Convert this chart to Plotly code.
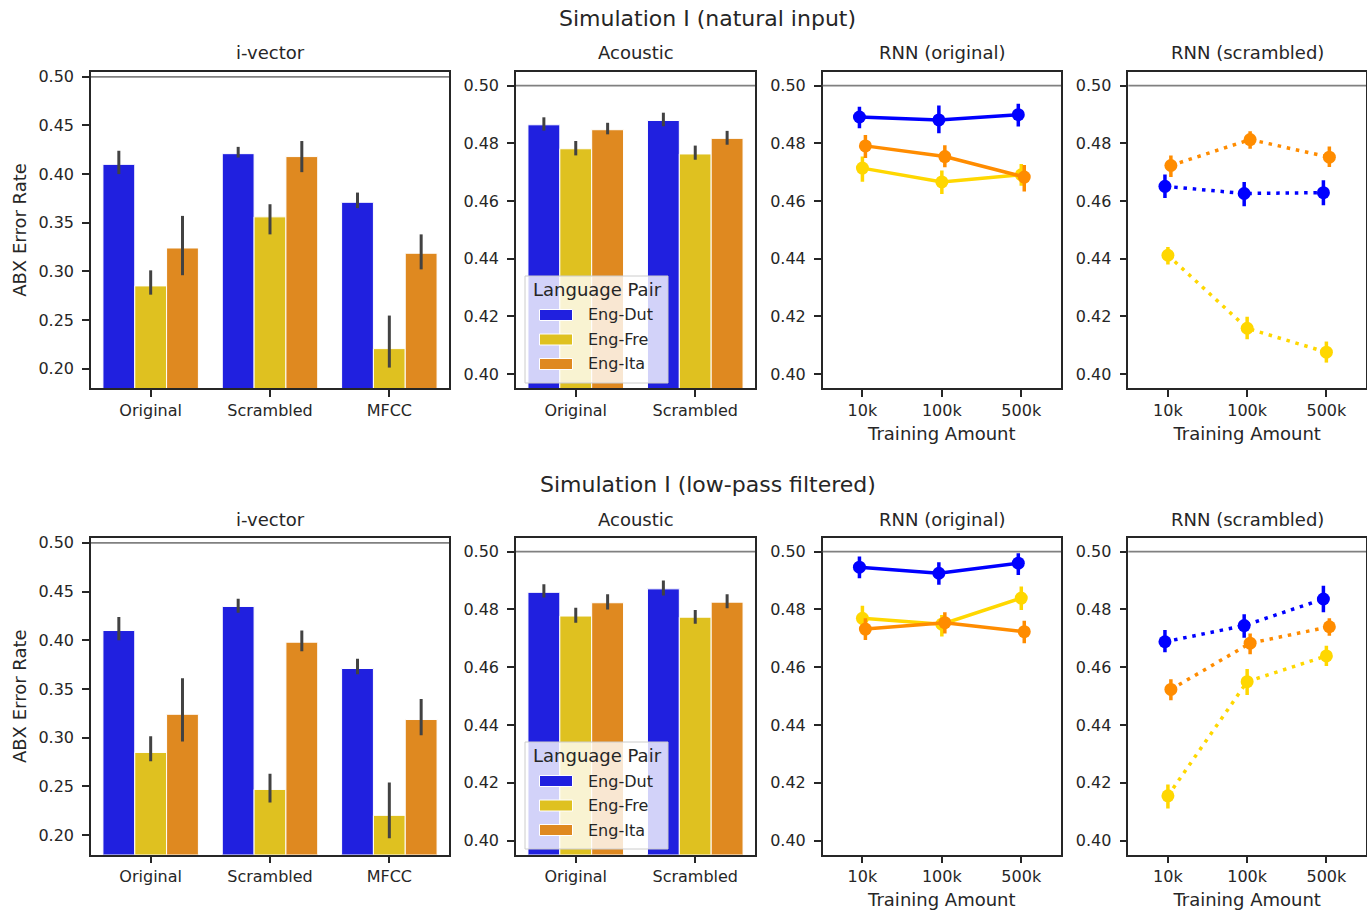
import plotly.graph_objects as go

W, H = 1367, 911
FONT = "DejaVu Sans"
TXT = "#262626"

# ---------------- data ----------------
LANGS = ["Eng-Dut", "Eng-Fre", "Eng-Ita"]
BAR_COLORS = ["#2020DF", "#DFC120", "#DF8920"]
PT_COLORS = ["#0000FF", "#FFD700", "#FF8C00"]

IV_CATS = ["Original", "Scrambled", "MFCC"]
AC_CATS = ["Original", "Scrambled"]
TRAIN = ["10k", "100k", "500k"]

ROW_TITLES = ["Simulation I (natural input)", "Simulation I (low-pass filtered)"]
PANEL_TITLES = ["i-vector", "Acoustic", "RNN (original)", "RNN (scrambled)"]

IV_TICKS = [0.20, 0.25, 0.30, 0.35, 0.40, 0.45, 0.50]
RNN_TICKS = [0.40, 0.42, 0.44, 0.46, 0.48, 0.50]

# --- row 1: natural input ---
iv1_mean = [[0.410, 0.421, 0.371], [0.285, 0.356, 0.2205], [0.324, 0.418, 0.3186]]
iv1_lo = [[0.400, 0.417, 0.365], [0.276, 0.338, 0.201], [0.296, 0.402, 0.302]]
iv1_hi = [[0.424, 0.428, 0.381], [0.301, 0.369, 0.2545], [0.357, 0.434, 0.338]]

ac1_mean = [[0.4864, 0.4879], [0.4781, 0.4763], [0.4847, 0.4817]]
ac1_lo = [[0.4844, 0.4859], [0.4758, 0.4743], [0.4831, 0.4795]]
ac1_hi = [[0.4890, 0.4906], [0.4808, 0.4792], [0.4871, 0.4843]]

ro1_mean = [[0.4891, 0.4881, 0.4899], [0.4714, 0.4666, 0.4691], [0.4791, 0.4754, 0.4683]]
ro1_lo = [[0.4852, 0.4835, 0.4858], [0.4667, 0.4624, 0.4653], [0.4749, 0.4717, 0.4633]]
ro1_hi = [[0.4927, 0.4931, 0.4937], [0.4754, 0.4706, 0.4728], [0.4829, 0.4793, 0.4725]]

rs1_mean = [[0.4651, 0.4626, 0.4629], [0.4412, 0.4159, 0.4076], [0.4723, 0.4813, 0.4752]]
rs1_lo = [[0.4610, 0.4582, 0.4585], [0.4380, 0.4121, 0.4040], [0.4683, 0.4781, 0.4718]]
rs1_hi = [[0.4692, 0.4666, 0.4672], [0.4441, 0.4199, 0.4113], [0.4758, 0.4842, 0.4789]]

# --- row 2: low-pass filtered ---
iv2_mean = [[0.410, 0.4347, 0.371], [0.2848, 0.2468, 0.2202], [0.324, 0.398, 0.3186]]
iv2_lo = [[0.400, 0.4283, 0.365], [0.2758, 0.2335, 0.1966], [0.296, 0.3886, 0.3025]]
iv2_hi = [[0.424, 0.4426, 0.381], [0.3015, 0.263, 0.254], [0.361, 0.410, 0.3397]]

ac2_mean = [[0.4859, 0.4871], [0.4777, 0.4773], [0.4823, 0.4825]]
ac2_lo = [[0.4841, 0.4848], [0.4754, 0.4750], [0.4800, 0.4804]]
ac2_hi = [[0.4887, 0.4900], [0.4806, 0.4798], [0.4852, 0.4852]]

ro2_mean = [[0.4946, 0.4925, 0.4960], [0.4769, 0.4749, 0.4839], [0.4732, 0.4754, 0.4723]]
ro2_lo = [[0.4908, 0.4885, 0.4919], [0.4729, 0.4706, 0.4798], [0.4694, 0.4717, 0.4683]]
ro2_hi = [[0.4983, 0.4963, 0.4994], [0.4813, 0.4781, 0.4879], [0.4769, 0.4790, 0.4761]]

rs2_mean = [[0.4688, 0.4744, 0.4836], [0.4155, 0.4550, 0.4639], [0.4523, 0.4683, 0.4740]]
rs2_lo = [[0.4652, 0.4702, 0.4790], [0.4111, 0.4504, 0.4604], [0.4486, 0.4645, 0.4709]]
rs2_hi = [[0.4729, 0.4783, 0.4882], [0.4194, 0.4594, 0.4674], [0.4558, 0.4717, 0.4769]]

CHANCE = 0.5
DODGE = [-0.0375, 0.0, 0.0375]

# ---------------- layout geometry (pixels) ----------------
COLS = [(91, 449), (516, 755), (822.7, 1061), (1128.3, 1366)]
ROWS = [(72, 388), (538, 854.5)]


def fx(px):
    return px / W


def fy(py):
    return 1 - py / H


def aid(n):
    return "" if n == 1 else str(n)


fig = go.Figure()
layout = dict(
    width=W, height=H,
    margin=dict(l=0, r=0, t=0, b=0, autoexpand=False),
    paper_bgcolor="white", plot_bgcolor="white",
    font=dict(family=FONT, color=TXT, size=16),
    barmode="group", bargap=0.2, bargroupgap=0.0,
    showlegend=False,
)
shapes, annotations = [], []


def axis_common():
    return dict(showline=True, mirror=True, linecolor=TXT, linewidth=1.5,
                ticks="outside", ticklen=7, tickwidth=1.5, tickcolor=TXT,
                showgrid=False, zeroline=False, automargin=False,
                tickfont=dict(family=FONT, size=16, color=TXT))


def add_bars(n, cats, mean, lo, hi):
    for k in range(3):
        fig.add_trace(go.Bar(
            x=cats, y=mean[k], name=LANGS[k],
            marker=dict(color=BAR_COLORS[k], line=dict(color="white", width=1)),
            error_y=dict(type="data", symmetric=False,
                         array=[h - m for h, m in zip(hi[k], mean[k])],
                         arrayminus=[m - l for m, l in zip(mean[k], lo[k])],
                         color="#424242", thickness=3, width=0),
            xaxis="x" + aid(n), yaxis="y" + aid(n), showlegend=False,
        ))


def add_points(n, mean, lo, hi, dash):
    for k in range(3):
        xs = [i + DODGE[k] for i in range(len(TRAIN))]
        fig.add_trace(go.Scatter(
            x=xs, y=mean[k], name=LANGS[k], mode="lines+markers",
            line=dict(color=PT_COLORS[k], width=3.5, dash=dash),
            marker=dict(color=PT_COLORS[k], size=13, line=dict(width=0)),
            error_y=dict(type="data", symmetric=False,
                         array=[h - m for h, m in zip(hi[k], mean[k])],
                         arrayminus=[m - l for m, l in zip(mean[k], lo[k])],
                         color=PT_COLORS[k], thickness=3.5, width=0),
            xaxis="x" + aid(n), yaxis="y" + aid(n), showlegend=False,
        ))


rows_data = [
    (iv1_mean, iv1_lo, iv1_hi, ac1_mean, ac1_lo, ac1_hi, ro1_mean, ro1_lo, ro1_hi, rs1_mean, rs1_lo, rs1_hi),
    (iv2_mean, iv2_lo, iv2_hi, ac2_mean, ac2_lo, ac2_hi, ro2_mean, ro2_lo, ro2_hi, rs2_mean, rs2_lo, rs2_hi),
]

for r in range(2):
    d = rows_data[r]
    y0p, y1p = ROWS[r]
    for c in range(4):
        n = r * 4 + c + 1
        x0p, x1p = COLS[c]
        xa = axis_common()
        ya = axis_common()
        xa.update(domain=[fx(x0p), fx(x1p)], anchor="y" + aid(n))
        ya.update(domain=[fy(y1p), fy(y0p)], anchor="x" + aid(n), tickformat=".2f",
                  ticklabelstandoff=5)
        if c == 0:
            add_bars(n, IV_CATS, d[0], d[1], d[2])
            ya.update(range=[0.18, 0.505], tickvals=IV_TICKS)
            ya.update(title=dict(text="ABX Error Rate", font=dict(size=18, color=TXT), standoff=7))
            xa.update(type="category", range=[-0.5, 2.5])
        elif c == 1:
            add_bars(n, AC_CATS, d[3], d[4], d[5])
            ya.update(range=[0.3952, 0.5047], tickvals=RNN_TICKS)
            xa.update(type="category", range=[-0.5, 1.5])
        else:
            if c == 2:
                add_points(n, d[6], d[7], d[8], "solid")
            else:
                add_points(n, d[9], d[10], d[11], "3.5px,5.8px")
            ya.update(range=[0.3952, 0.5047], tickvals=RNN_TICKS)
            xa.update(range=[-0.5, 2.5], tickvals=list(range(len(TRAIN))), ticktext=TRAIN,
                      title=dict(text="Training Amount", font=dict(size=18, color=TXT), standoff=8))
        layout["xaxis" + aid(n)] = xa
        layout["yaxis" + aid(n)] = ya
        # chance line
        shapes.append(dict(type="line", xref="x" + aid(n) + " domain", x0=0, x1=1,
                           yref="y" + aid(n), y0=CHANCE, y1=CHANCE,
                           line=dict(color="#808080", width=1.8), layer="above"))
        # panel title
        annotations.append(dict(text=PANEL_TITLES[c], xref="paper", yref="paper",
                                x=fx((x0p + x1p) / 2), y=fy(y0p - 19),
                                xanchor="center", yanchor="middle", showarrow=False,
                                font=dict(size=18, color=TXT, family=FONT)))
    # row title
    annotations.append(dict(text=ROW_TITLES[r], xref="paper", yref="paper",
                            x=fx(708), y=fy(y0p - 53), xanchor="center", yanchor="middle",
                            showarrow=False, font=dict(size=22, color=TXT, family=FONT)))

    # manual legend inside the Acoustic panel
    off = y0p - 72
    shapes.append(dict(type="rect", xref="paper", yref="paper",
                       x0=fx(525), x1=fx(668), y0=fy(276 + off), y1=fy(383 + off),
                       fillcolor="rgba(255,255,255,0.8)", line=dict(color="#cccccc", width=1),
                       layer="above"))
    annotations.append(dict(text="Language Pair", xref="paper", yref="paper",
                            x=fx(531), y=fy(289 + off), xanchor="left", yanchor="middle",
                            showarrow=False, font=dict(size=18, color=TXT, family=FONT)))
    for k in range(3):
        cy = 315 + off + k * 24.5
        shapes.append(dict(type="rect", xref="paper", yref="paper",
                           x0=fx(539.5), x1=fx(572.5), y0=fy(cy + 5.5), y1=fy(cy - 5.5),
                           fillcolor=BAR_COLORS[k], line=dict(color="white", width=1),
                           layer="above"))
        annotations.append(dict(text=LANGS[k], xref="paper", yref="paper",
                                x=fx(586), y=fy(cy), xanchor="left", yanchor="middle",
                                showarrow=False, font=dict(size=16, color=TXT, family=FONT)))

layout["shapes"] = shapes
layout["annotations"] = annotations
fig.update_layout(**layout)
fig.write_html("out.html", config={"displayModeBar": False},
               post_script="document.body.style.margin='0px';document.body.style.overflow='hidden';")
